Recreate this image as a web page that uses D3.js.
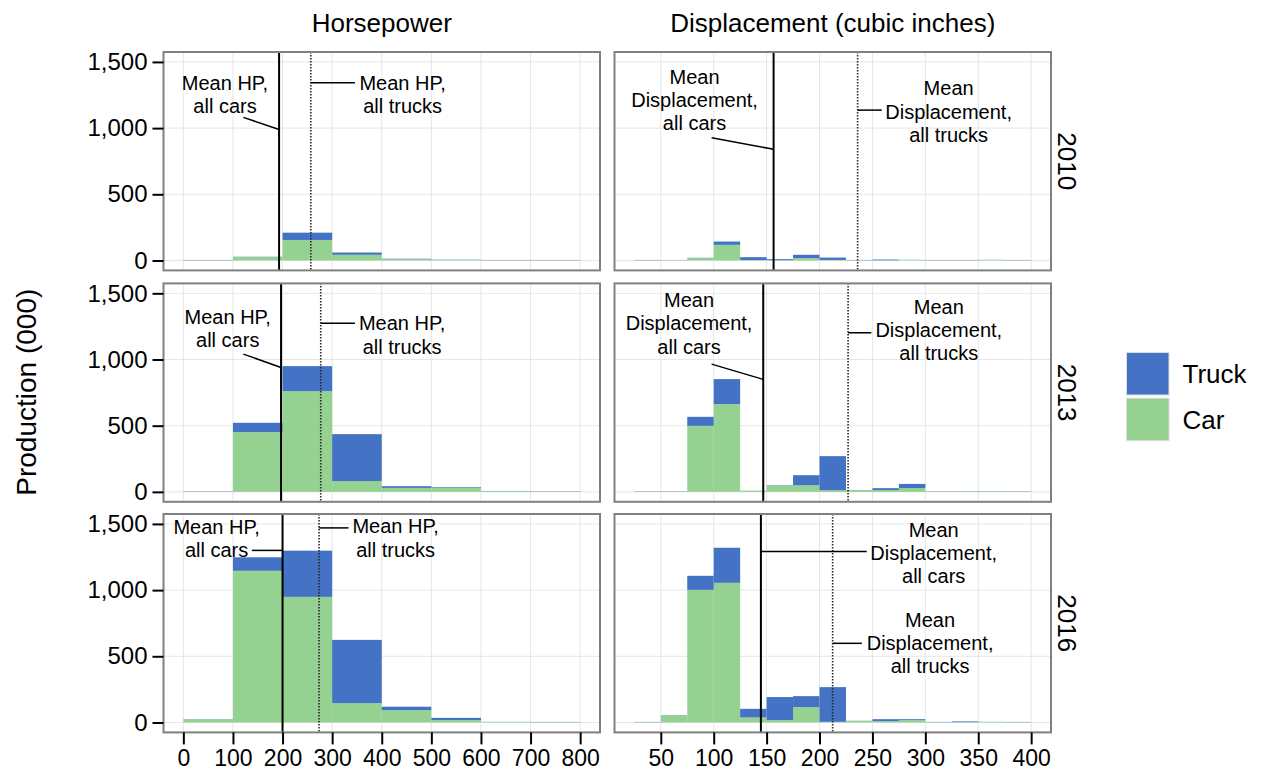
<!DOCTYPE html>
<html>
<head>
<meta charset="utf-8">
<script src="https://cdn.jsdelivr.net/npm/d3@7"></script>
<style>
  html, body { margin: 0; padding: 0; background: #fff; }
  svg { display: block; font-family: "Liberation Sans", Arial, Helvetica, sans-serif; }
</style>
</head>
<body>
<svg id="chart" width="1264" height="771"></svg>
<script>
// Production (thousands) by horsepower and displacement bins, cars vs trucks
const years = ["2010", "2013", "2016"];
const seriesKeys = ["car", "truck"];
const seriesNames = ["Car", "Truck"];

const hpBinStart = [0, 100, 200, 300, 400, 500, 600, 700];
const hpBinWidth = 100;
const dispBinStart = [25, 50, 75, 100, 125, 150, 175, 200, 225, 250, 275, 300, 325, 350, 375];
const dispBinWidth = 25;

const hpCar2010   = [2, 25, 155, 43, 10, 6, 2, 2];
const hpTruck2010 = [2, 3, 55, 17, 3, 1, 2, 2];
const hpCar2013   = [2, 451, 761, 81, 30, 32, 6, 2];
const hpTruck2013 = [2, 71, 189, 355, 13, 5, 1, 2];
const hpCar2016   = [25, 1146, 949, 146, 93, 18, 4, 2];
const hpTruck2016 = [1, 102, 349, 478, 26, 17, 1, 2];

const dispCar2010   = [2, 3, 18, 118, 3, 2, 18, 4, 2, 1, 4, 2, 2, 4, 2];
const dispTruck2010 = [2, 1, 2, 25, 22, 8, 25, 18, 2, 6, 1, 2, 2, 1, 2];
const dispCar2013   = [2, 2, 499, 663, 8, 50, 50, 12, 13, 14, 28, 2, 5, 5, 2];
const dispTruck2013 = [2, 2, 68, 189, 1, 2, 76, 258, 1, 14, 32, 2, 1, 1, 2];
const dispCar2016   = [2, 55, 1002, 1055, 38, 18, 116, 5, 12, 10, 18, 2, 2, 4, 2];
const dispTruck2016 = [2, 1, 106, 265, 65, 174, 83, 262, 1, 15, 7, 2, 6, 1, 2];

const hpMeanCar     = [193, 197, 200];
const hpMeanTruck   = [257, 277, 273.6];
const dispMeanCar   = [156.6, 146.8, 144.6];
const dispMeanTruck = [236, 227, 212.4];

const hpTicks = [0, 100, 200, 300, 400, 500, 600, 700, 800];
const dispTicks = [50, 100, 150, 200, 250, 300, 350, 400];
const yTicks = [0, 500, 1000, 1500];

const stripTitles = ["Horsepower", "Displacement (cubic inches)"];
const yTitle = "Production (000)";

// Callout labels in data units: text block centre and leader segment
const hpNotes = [
  [
    { lines: ["Mean HP,", "all cars"], x: 84, y: 1257, leader: [[121, 1081], [193, 990]] },
    { lines: ["Mean HP,", "all trucks"], x: 442, y: 1257, leader: [[257, 1342], [346, 1342]] }
  ],
  [
    { lines: ["Mean HP,", "all cars"], x: 89.5, y: 1238, leader: [[121, 1041], [197, 940]] },
    { lines: ["Mean HP,", "all trucks"], x: 441, y: 1187, leader: [[277, 1273], [346, 1273]] }
  ],
  [
    { lines: ["Mean HP,", "all cars"], x: 67, y: 1391, leader: [[138, 1300], [200, 1300]] },
    { lines: ["Mean HP,", "all trucks"], x: 428, y: 1396, leader: [[273.6, 1470], [333, 1470]] }
  ]
];
const dispNotes = [
  [
    { lines: ["Mean", "Displacement,", "all cars"], x: 81.9, y: 1215, leader: [[98, 927], [156.6, 840]] },
    { lines: ["Mean", "Displacement,", "all trucks"], x: 322, y: 1126, leader: [[236, 1136], [258.8, 1136]] }
  ],
  [
    { lines: ["Mean", "Displacement,", "all cars"], x: 76.7, y: 1275, leader: [[98, 965], [146.8, 850]] },
    { lines: ["Mean", "Displacement,", "all trucks"], x: 312.7, y: 1225, leader: [[227, 1202], [249, 1202]] }
  ],
  [
    { lines: ["Mean", "Displacement,", "all cars"], x: 307.9, y: 1283, leader: [[144.6, 1292], [244.6, 1292]] },
    { lines: ["Mean", "Displacement,", "all trucks"], x: 304.5, y: 601, leader: [[212.4, 598], [240, 598]] }
  ]
];

const colors = { car: "#95d291", truck: "#4472c4" };

// ---- layout ----
const svg = d3.select("#chart");
const colX = [[163.5, 600], [614.5, 1051]];
const rowTop = [52, 283.4, 514];
const rowH = 218.4;

const xHP = d3.scaleLinear().domain([-40, 840]).range(colX[0]);
const xDisp = d3.scaleLinear().domain([6.25, 418.75]).range(colX[1]);

function rowScale(r) {
  return d3.scaleLinear().domain([-75, 1575]).range([rowTop[r] + rowH, rowTop[r]]);
}

function buildRows(starts, width, car, truck) {
  return starts.map((s, i) => ({ x0: s, x1: s + width, car: car[i], truck: truck[i] }));
}

const hpRows = [
  buildRows(hpBinStart, hpBinWidth, hpCar2010, hpTruck2010),
  buildRows(hpBinStart, hpBinWidth, hpCar2013, hpTruck2013),
  buildRows(hpBinStart, hpBinWidth, hpCar2016, hpTruck2016)
];
const dispRows = [
  buildRows(dispBinStart, dispBinWidth, dispCar2010, dispTruck2010),
  buildRows(dispBinStart, dispBinWidth, dispCar2013, dispTruck2013),
  buildRows(dispBinStart, dispBinWidth, dispCar2016, dispTruck2016)
];

const stack = d3.stack().keys(seriesKeys);

function drawPanel(r, c, x, rows, meanCar, meanTruck, notes, xTicks) {
  const y = rowScale(r);
  const [left, right] = colX[c];
  const top = rowTop[r], bottom = rowTop[r] + rowH;
  const g = svg.append("g");

  // grid
  g.selectAll("line.gx").data(xTicks).enter().append("line")
    .attr("x1", d => x(d)).attr("x2", d => x(d))
    .attr("y1", top).attr("y2", bottom)
    .attr("stroke", "#e6e6e6").attr("stroke-width", 1);
  g.selectAll("line.gy").data(yTicks).enter().append("line")
    .attr("x1", left).attr("x2", right)
    .attr("y1", d => y(d)).attr("y2", d => y(d))
    .attr("stroke", "#e6e6e6").attr("stroke-width", 1);

  // stacked histogram bars
  const layers = stack(rows);
  layers.forEach(layer => {
    g.append("g").selectAll("rect").data(layer).enter().append("rect")
      .attr("x", d => x(d.data.x0))
      .attr("width", d => x(d.data.x1) - x(d.data.x0))
      .attr("y", d => y(d[1]))
      .attr("height", d => Math.max(0, y(d[0]) - y(d[1])))
      .attr("fill", colors[layer.key]);
  });

  // mean lines
  g.append("line")
    .attr("x1", x(meanCar)).attr("x2", x(meanCar))
    .attr("y1", top).attr("y2", bottom)
    .attr("stroke", "#000").attr("stroke-width", 2);
  g.append("line")
    .attr("x1", x(meanTruck)).attr("x2", x(meanTruck))
    .attr("y1", Math.round(top)).attr("y2", Math.round(bottom))
    .attr("stroke", "#2a2a2a").attr("stroke-width", 1.6)
    .attr("stroke-dasharray", "1.6 1.4");

  // callouts
  const fs = 20, lh = 23.3;
  notes.forEach(n => {
    g.append("line")
      .attr("x1", x(n.leader[0][0])).attr("y1", y(n.leader[0][1]))
      .attr("x2", x(n.leader[1][0])).attr("y2", y(n.leader[1][1]))
      .attr("stroke", "#000").attr("stroke-width", 1.5);
    const cy = y(n.y);
    const k = n.lines.length;
    const t = g.append("text")
      .attr("text-anchor", "middle")
      .attr("font-size", fs)
      .attr("fill", "#000");
    n.lines.forEach((ln, i) => {
      t.append("tspan")
        .attr("x", x(n.x))
        .attr("y", cy + (i - (k - 1) / 2) * lh + 0.36 * fs)
        .text(ln);
    });
  });

  // border
  g.append("rect")
    .attr("x", left).attr("y", top)
    .attr("width", right - left).attr("height", rowH)
    .attr("fill", "none").attr("stroke", "#808080").attr("stroke-width", 2);

  // y axis on left column
  if (c === 0) {
    const ay = svg.append("g").attr("transform", `translate(${left},0)`)
      .call(d3.axisLeft(y).tickValues(yTicks).tickSize(11).tickPadding(5)
        .tickFormat(d3.format(",")));
    ay.select(".domain").remove();
    ay.selectAll(".tick line").attr("stroke", "#000").attr("stroke-width", 2);
    ay.selectAll(".tick text").attr("font-size", 24).attr("fill", "#000")
      .attr("font-family", "Liberation Sans, Arial, sans-serif");
  }
  // x axis on bottom row
  if (r === 2) {
    const ax = svg.append("g").attr("transform", `translate(0,${bottom})`)
      .call(d3.axisBottom(x).tickValues(xTicks).tickSize(12).tickPadding(5));
    ax.select(".domain").remove();
    ax.selectAll(".tick line").attr("stroke", "#000").attr("stroke-width", 2);
    ax.selectAll(".tick text").attr("font-size", 23).attr("fill", "#000")
      .attr("font-family", "Liberation Sans, Arial, sans-serif");
  }
}

for (let r = 0; r < 3; r++) {
  drawPanel(r, 0, xHP, hpRows[r], hpMeanCar[r], hpMeanTruck[r], hpNotes[r], hpTicks);
  drawPanel(r, 1, xDisp, dispRows[r], dispMeanCar[r], dispMeanTruck[r], dispNotes[r], dispTicks);
}

// column strip titles
stripTitles.forEach((t, c) => {
  svg.append("text")
    .attr("x", (colX[c][0] + colX[c][1]) / 2)
    .attr("y", 31.7)
    .attr("text-anchor", "middle")
    .attr("font-size", 26)
    .attr("fill", "#000")
    .text(t);
});

// row strip titles
years.forEach((yr, r) => {
  const cy = rowTop[r] + rowH / 2;
  svg.append("text")
    .attr("transform", `translate(1066.5,${cy}) rotate(90)`)
    .attr("text-anchor", "middle")
    .attr("dominant-baseline", "central")
    .attr("font-size", 26)
    .attr("fill", "#000")
    .text(yr);
});

// y axis title
svg.append("text")
  .attr("transform", `translate(26,${(rowTop[0] + rowTop[2] + rowH) / 2}) rotate(-90)`)
  .attr("text-anchor", "middle")
  .attr("dominant-baseline", "central")
  .attr("font-size", 28)
  .attr("fill", "#000")
  .text(yTitle);

// legend
const legendItems = [
  { key: "truck", label: seriesNames[1] },
  { key: "car", label: seriesNames[0] }
];
const legend = svg.append("g").attr("transform", "translate(1126.5,352.5)");
legendItems.forEach((it, i) => {
  const gy = i * 45.7;
  legend.append("rect")
    .attr("x", 0).attr("y", gy)
    .attr("width", 42.5).attr("height", 42.5)
    .attr("fill", colors[it.key])
    .attr("stroke", "#dcdcdc").attr("stroke-width", 1);
  legend.append("text")
    .attr("x", 56).attr("y", gy + 21.5)
    .attr("dominant-baseline", "central")
    .attr("font-size", 26)
    .attr("fill", "#000")
    .text(it.label);
});
</script>
</body>
</html>
